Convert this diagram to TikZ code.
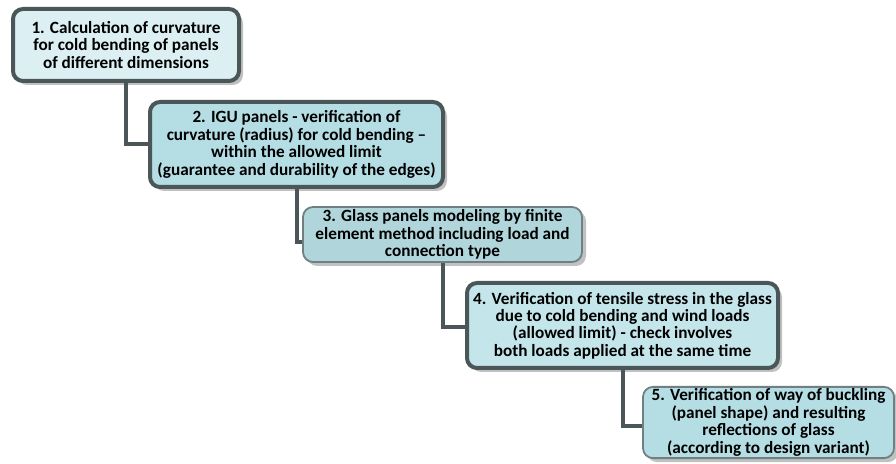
\documentclass[tikz,border=0pt]{standalone}
\usepackage{fontspec}
\setmainfont{Carlito}
\usepackage{tikz}
\usetikzlibrary{positioning, shadows}
\definecolor{stepdark}{RGB}{74, 86, 88}
\definecolor{steplight}{RGB}{112, 128, 130}
\definecolor{fillpale}{RGB}{220, 240, 243}
\definecolor{fillmid}{RGB}{180, 222, 228}
\definecolor{fillgray}{RGB}{176, 214, 220}
\definecolor{fillsoft}{RGB}{196, 230, 234}

\begin{document}
\begin{tikzpicture}[x=0.5pt, y=-0.5pt, font=\fontsize{8.6}{8.7}\selectfont\bfseries]
      \tikzset{
        stepbox/.style={rounded corners=5pt, align=center, inner sep=1pt,
          drop shadow={shadow xshift=2pt, shadow yshift=-2pt, fill=black!30, opacity=0.8}},
        heavy/.style={stepbox, draw=stepdark, line width=2pt},
        light/.style={stepbox, draw=steplight, line width=0.9pt},
        link/.style={draw=stepdark, line width=2pt}
      }
      \useasboundingbox (0,0) rectangle (896,464);
      \node[heavy, fill=fillpale, minimum width=113pt, minimum height=36pt] (s1) at (126,45)
        {1. Calculation of curvature\\for cold bending of panels\\of different dimensions};
      \node[heavy, fill=fillmid, minimum width=146.5pt, minimum height=42.5pt] (s2) at (296.5,144.5)
        {2. IGU panels - verification of\\curvature (radius) for cold bending --\\within the allowed limit\\(guarantee and durability of the edges)};
      \node[light, fill=fillgray, minimum width=139.5pt, minimum height=27.5pt] (s3) at (442.5,234.5)
        {3. Glass panels modeling by finite\\element method including load and\\connection type};
      \node[heavy, fill=fillsoft, minimum width=155.5pt, minimum height=42.5pt] (s4) at (622.5,325.5)
        {4. Verification of tensile stress in the glass\\due to cold bending and wind loads\\(allowed limit) - check involves\\both loads applied at the same time};
      \node[light, fill=fillmid, minimum width=125.5pt, minimum height=30.5pt] (s5) at (768.5,422.5)
        {5. Verification of way of buckling\\(panel shape) and resulting\\reflections of glass\\(according to design variant)};
      % connectors, box to box
      \draw[link] (s1.south) |- (s2.west);
      \draw[link] (s2.south) |- ([yshift=-4pt]s3.west);
      \draw[link] (s3.south) |- ([yshift=-1pt]s4.west);
      \draw[link] (s4.south) |- ([yshift=-2pt]s5.west);
    \end{tikzpicture}
\end{document}
